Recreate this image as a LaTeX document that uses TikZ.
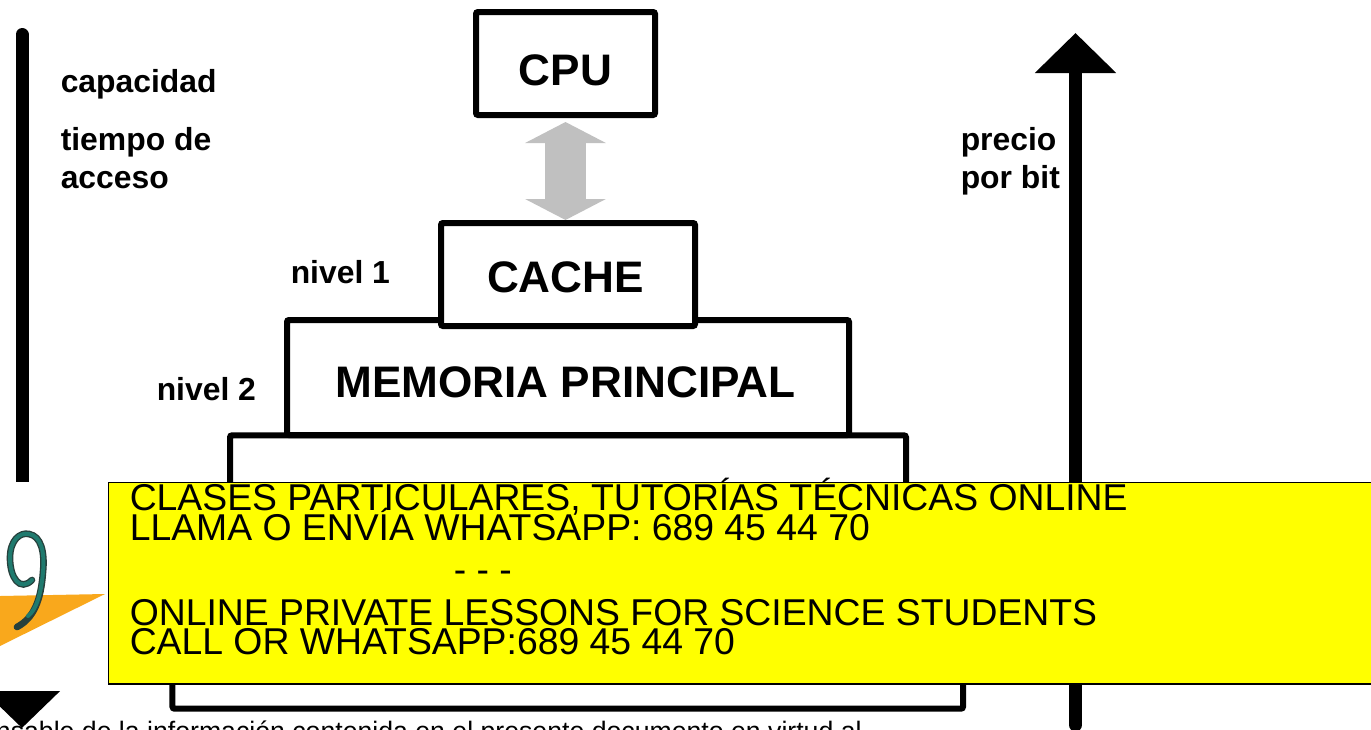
\documentclass[tikz,border=0pt]{standalone}
\usepackage{fontspec}
\setmainfont{Liberation Sans}
\usetikzlibrary{arrows.meta}
\definecolor{barrow}{HTML}{C0C0C0}
\definecolor{wedge}{HTML}{F9A81C}
\definecolor{ninefill}{HTML}{1F7A6E}
\definecolor{nineedge}{HTML}{27403C}
\definecolor{banner}{HTML}{FFFF00}
\tikzset{
  level/.style={draw=black,fill=white,line width=4.5pt,rounded corners=1.5pt,inner sep=0pt,
    font=\fontsize{33.1pt}{33pt}\selectfont\bfseries},
  side/.style={anchor=base west,inner sep=0pt,font=\fontsize{23.9pt}{24pt}\selectfont\bfseries},
  axis/.style={line width=9.75pt},
  bannerline/.style={anchor=base west,inner sep=0pt,font=\fontsize{28pt}{29pt}\selectfont},
}
\begin{document}
\begin{tikzpicture}[x=0.75pt,y=-0.75pt]
\useasboundingbox (0,0) rectangle (1371,729);
% clipped footer line
\node[anchor=base east,inner sep=0pt,font=\fontsize{20pt}{21pt}\selectfont] (footer) at (862,740)
  {responsable de la información contenida en el presente documento en virtud al};
% axes
\coordinate (ltop) at (22,34.5);
\coordinate (lbot) at (22,728);
\coordinate (rtop) at (1075.5,33);
\coordinate (rbot) at (1075.5,725);
\draw[axis,line cap=round,-{Triangle[width=55.5pt,length=27.75pt]}] (ltop) -- (lbot);
\draw[axis,line cap=round,-{Triangle[width=59.25pt,length=30pt]}] (rbot) -- (rtop);
% levels
\node[level,minimum width=592.9pt,minimum height=112pt] (box4) at (567.75,634) {};
\node[level,minimum width=507pt,minimum height=100pt] (box3) at (568,502) {};
\node[level,minimum width=421.5pt,text height=57.75pt,text depth=28.5pt] (mem) at (568,377.5) {MEMORIA PRINCIPAL\kern3.75pt};
\node[level,minimum width=190.5pt,text height=51.75pt,text depth=25.5pt] (cache) at (568,274.5) {CACHE\kern3.75pt};
\node[level,minimum width=134.25pt,text height=54.75pt,text depth=22.5pt] (cpu) at (565.5,63.5) {CPU};
\draw[barrow,line width=30.75pt,shorten >=0pt,shorten <=0pt,
  {Triangle[width=60pt,length=15.75pt]}-{Triangle[width=60pt,length=15.75pt]}]
  ([yshift=-3pt]cpu.south) -- (cpu.south |- cache.north);
% labels
\node[side] (cap) at (60.5,92.5) {capacidad};
\node[side] (t1) at (60.5,150.5) {tiempo de};
\node[side] (t2) at (60.5,188) {acceso};
\node[side] (p1) at (960.5,150.5) {precio};
\node[side] (p2) at (960.5,188) {por bit};
\node[side] (n1) at (290.5,283.5) {nivel 1};
\node[side] (n2) at (156.5,400.5) {nivel 2};
% banner logo area
\fill[white] (0,482) rectangle (108,691);
\fill[wedge] (0,596) -- (105,594) -- (0,646) -- cycle;
\draw[nineedge,line width=5pt,line cap=round]
  (32,580) .. controls (20,592) and (10,578) .. (10,558)
  .. controls (10,540) and (20,532) .. (29,534)
  .. controls (41,536) and (45,552) .. (43,572)
  .. controls (41,600) and (34,618) .. (17,627);
\draw[ninefill,line width=3pt,line cap=round]
  (32,580) .. controls (20,592) and (10,578) .. (10,558)
  .. controls (10,540) and (20,532) .. (29,534)
  .. controls (41,536) and (45,552) .. (43,572)
  .. controls (41,595) and (36,610) .. (28,616);
% banner
\path[fill=banner,draw=black,line width=1.4pt] (108.5,482.5) rectangle (1375,684);
\node[bannerline] (b1) at (129.5,510.5) {CLASES PARTICULARES, TUTORÍAS TÉCNICAS ONLINE};
\node[bannerline] (b2) at (129.5,540) {LLAMA O ENVÍA WHATSAPP: 689 45 44 70};
\node[bannerline] (b3) at (453.5,582) {- - -};
\node[bannerline] (b4) at (129.5,625.5) {ONLINE PRIVATE LESSONS FOR SCIENCE STUDENTS};
\node[bannerline] (b5) at (129.5,654.5) {CALL OR WHATSAPP:689 45 44 70};
\end{tikzpicture}
\end{document}
